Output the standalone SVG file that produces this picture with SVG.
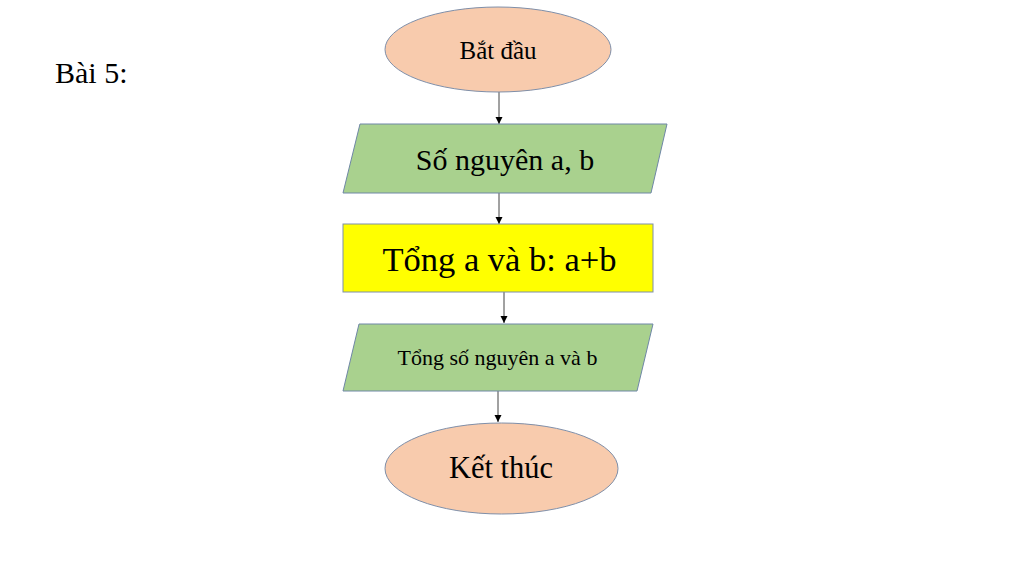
<svg xmlns="http://www.w3.org/2000/svg" width="1024" height="570" viewBox="0 0 1024 570">
<style>
text{font-family:"Liberation Serif","Times New Roman",serif;fill:#000;text-anchor:middle}
.term{fill:#F8CBAD;stroke:#7F8FA9;stroke-width:1}
.io{fill:#A9D18E;stroke:#6F87A6;stroke-width:1}
.proc{fill:#FFFF00;stroke:#7F8FA9;stroke-width:1}
.conn{stroke:#444;stroke-width:1;fill:none;marker-end:url(#arr)}
</style>
<defs>
<marker id="arr" markerWidth="8" markerHeight="8" refX="7" refY="4" orient="auto" markerUnits="userSpaceOnUse">
<path d="M0,0.5 L7,4 L0,7.5 Z" fill="#000"/>
</marker>
</defs>
<rect width="1024" height="570" fill="#fff"/>
<text x="55" y="83" style="text-anchor:start" font-size="30">Bài 5:</text>
<g id="connectors">
<line class="conn" x1="499" y1="92" x2="499" y2="124"/>
<line class="conn" x1="499" y1="193" x2="499" y2="224"/>
<line class="conn" x1="504" y1="292" x2="504" y2="323"/>
<line class="conn" x1="498" y1="391" x2="498" y2="422"/>
</g>
<g id="start">
<ellipse class="term" cx="498" cy="49.5" rx="113" ry="42.5"/>
<text x="498" y="59" font-size="25">Bắt đầu</text>
</g>
<g id="input">
<polygon class="io" points="360,124 667,124 651,193 343,193"/>
<text x="505" y="170" font-size="30">Số nguyên a, b</text>
</g>
<g id="process">
<rect class="proc" x="343" y="224" width="310" height="68"/>
<text x="499.5" y="271" font-size="34.5">Tổng a và b: a+b</text>
</g>
<g id="output">
<polygon class="io" points="359,324 653,324 637,391 343,391"/>
<text x="497.5" y="365" font-size="22">Tổng số nguyên a và b</text>
</g>
<g id="end">
<ellipse class="term" cx="501.5" cy="468.5" rx="116.5" ry="45.5"/>
<text x="501" y="478" font-size="30.5">Kết thúc</text>
</g>
</svg>
